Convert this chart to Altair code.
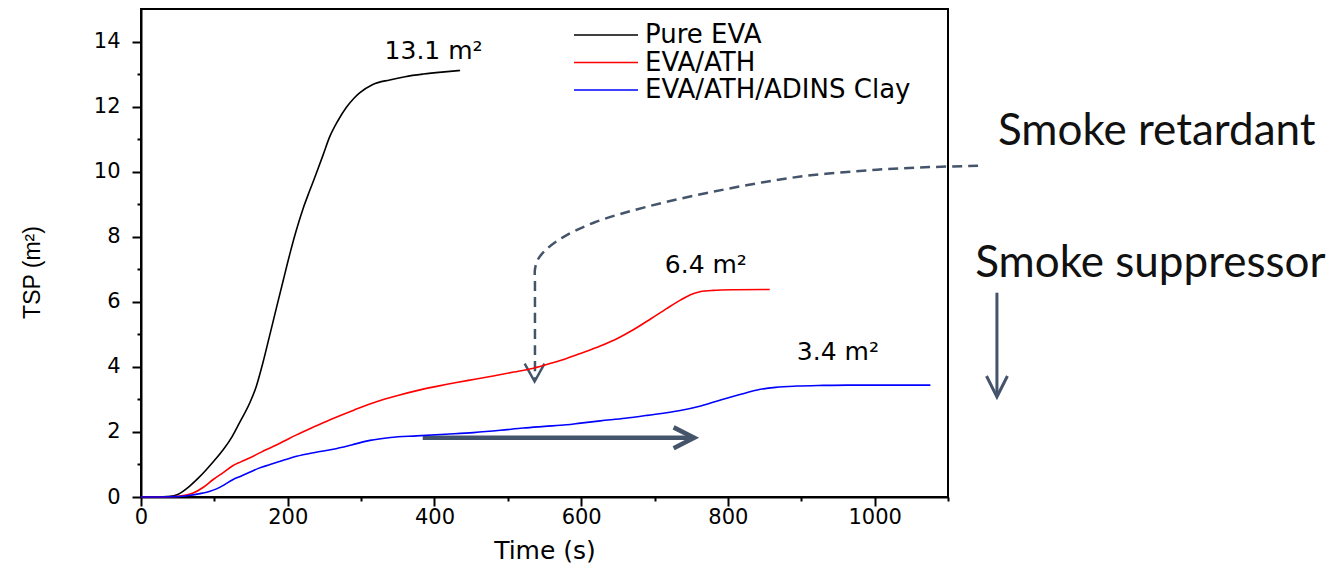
import altair as alt
import pandas as pd

# ---------------- data ----------------
series_names = ["Pure EVA", "EVA/ATH", "EVA/ATH/ADINS Clay"]
series_colors = ["#000000", "#ff0000", "#0000ff"]

eva_time = [0, 20, 40, 50, 66, 78, 89, 100, 112, 124, 134, 148, 157, 166, 175, 185,
            194, 203, 212, 221, 230, 239, 248, 257, 268, 280, 290, 298, 316, 339,
            360, 385, 410, 435]
eva_tsp = [0, 0, 0.02, 0.08, 0.33, 0.58, 0.84, 1.12, 1.45, 1.85, 2.27, 2.88, 3.39,
           4.11, 4.93, 5.85, 6.67, 7.48, 8.22, 8.87, 9.42, 9.95, 10.50, 11.06, 11.55,
           11.98, 12.25, 12.42, 12.68, 12.82, 12.92, 13.00, 13.06, 13.11]

ath_time = [0, 40, 60, 71, 85, 98, 112, 125, 136, 148, 164, 180, 196, 212, 235, 257,
            290, 321, 350, 376, 403, 430, 455, 480, 508, 535, 560, 580, 600, 626, 650,
            671, 695, 717, 735, 749, 762, 780, 810, 857]
ath_tsp = [0, 0.01, 0.05, 0.12, 0.30, 0.53, 0.75, 0.96, 1.08, 1.20, 1.38, 1.55, 1.73,
           1.91, 2.15, 2.37, 2.67, 2.93, 3.12, 3.27, 3.40, 3.52, 3.62, 3.72, 3.84, 3.96,
           4.12, 4.26, 4.42, 4.64, 4.88, 5.14, 5.48, 5.80, 6.05, 6.22, 6.31, 6.35, 6.37,
           6.38]

clay_time = [0, 40, 60, 84, 93, 103, 114, 125, 136, 148, 160, 175, 193, 212, 237, 262,
             287, 312, 340, 376, 415, 453, 490, 521, 550, 580, 599, 626, 660, 690, 735,
             763, 790, 815, 840, 865, 894, 930, 963, 1000, 1040, 1076]
clay_tsp = [0, 0.01, 0.03, 0.12, 0.17, 0.25, 0.38, 0.53, 0.64, 0.76, 0.88, 0.99, 1.12,
            1.25, 1.37, 1.47, 1.60, 1.74, 1.83, 1.88, 1.93, 1.98, 2.05, 2.12, 2.17, 2.22,
            2.27, 2.34, 2.42, 2.51, 2.66, 2.80, 2.98, 3.14, 3.29, 3.37, 3.41, 3.43, 3.44,
            3.44, 3.44, 3.44]

x_tick_values = list(range(0, 1101, 100))
y_tick_values = list(range(0, 15))

# end-value annotations
value_labels = ["13.1 m²", "6.4 m²", "3.4 m²"]
value_label_time = [332, 714, 894]
value_label_tsp = [13.46, 6.89, 4.2]

# slide annotations
slide_labels = ["Smoke retardant", "Smoke suppressor"]
slide_label_time = [1168, 1137]
slide_label_tsp = [10.83, 6.77]

retardant_curve_time = [1141, 1075, 1003, 899, 794.5, 690.8, 617, 575, 552, 541, 537, 537, 537]
retardant_curve_tsp = [10.18, 10.14, 10.06, 9.85, 9.45, 8.93, 8.43, 7.98, 7.6, 7.3, 7.0, 6.6, 3.6]
retardant_head_time = [523, 536.5, 550]
retardant_head_tsp = [4.10, 3.55, 4.10]

horizontal_arrow_time = [384, 753]
horizontal_arrow_tsp = [1.82, 1.82]
horizontal_head_time = [726, 754, 726]
horizontal_head_tsp = [2.14, 1.82, 1.50]

down_arrow_time = [1166.7, 1166.7]
down_arrow_tsp = [6.28, 3.12]
down_head_time = [1152.5, 1166.7, 1181]
down_head_tsp = [3.72, 3.08, 3.72]

# ---------------- tables ----------------
rows = []
for name, ts, vs in zip(series_names, [eva_time, ath_time, clay_time],
                        [eva_tsp, ath_tsp, clay_tsp]):
    for t, v in zip(ts, vs):
        rows.append({"series": name, "time": t, "tsp": v})
df = pd.DataFrame(rows)


def path_df(xs, ys):
    return pd.DataFrame({"time": xs, "tsp": ys, "i": list(range(len(xs)))})


ARROW = "#44546A"
FONT = "DejaVu Sans"

x_scale = alt.Scale(domain=[0, 1100], nice=False, zero=False)
y_scale = alt.Scale(domain=[0, 15], nice=False, zero=False)

x_axis = alt.Axis(
    values=x_tick_values, format="d",
    labelExpr="datum.value % 200 === 0 ? datum.label : ''",
    tickSize={"condition": {"test": "datum.value % 200 === 0", "value": 9}, "value": 4},
    labelPadding=0, labelFlush=False, labelOverlap=False,
    labelFont=FONT, labelFontSize=21, labelColor="black",
    domainColor="black", domainWidth=2, tickColor="black", tickWidth=2,
    grid=False, titleFont=FONT, titleFontSize=25, titleFontWeight="normal",
    titleColor="black", titleBaseline="alphabetic", titleY=61,
)
y_axis = alt.Axis(
    values=y_tick_values, format="d",
    labelExpr="datum.value % 2 === 0 ? datum.label : ''",
    tickSize={"condition": {"test": "datum.value % 2 === 0", "value": 9}, "value": 4},
    labelPadding=12, labelFlush=False, labelOverlap=False,
    labelFont=FONT, labelFontSize=21, labelColor="black",
    domainColor="black", domainWidth=2, tickColor="black", tickWidth=2,
    grid=False, titleFont="Liberation Sans", titleFontSize=23,
    titleFontWeight="normal", titleColor="black", titleAngle=270,
    titleAlign="center", titleBaseline="middle", titleX=-109, titleY=263,
)

X = alt.X("time:Q", scale=x_scale, axis=x_axis, title="Time (s)")
Y = alt.Y("tsp:Q", scale=y_scale, axis=y_axis, title="TSP (m²)")

lines = alt.Chart(df).mark_line(strokeWidth=1.6, interpolate="monotone").encode(
    x=X, y=Y,
    color=alt.Color(
        "series:N",
        scale=alt.Scale(domain=series_names, range=series_colors),
        legend=alt.Legend(
            title=None, orient="none", legendX=452, legendY=13,
            symbolType="M-4,0H4", symbolSize=256, symbolStrokeWidth=1.5,
            labelOffset=26, labelFont=FONT, labelFontSize=26, labelColor="black",
            labelLimit=0, rowPadding=1.5, padding=0,
        ),
    ),
)

value_text = alt.Chart(pd.DataFrame({
    "time": value_label_time, "tsp": value_label_tsp, "label": value_labels
})).mark_text(font=FONT, fontSize=25, align="left", baseline="alphabetic",
              color="black").encode(x=X, y=Y, text="label:N")

slide_text = alt.Chart(pd.DataFrame({
    "time": slide_label_time, "tsp": slide_label_tsp, "label": slide_labels
})).mark_text(font="Lato", fontSize=44, align="left", baseline="alphabetic",
              color="#111111").encode(x=X, y=Y, text="label:N")


def path_layer(xs, ys, width, dash=None):
    kw = dict(strokeWidth=width, color=ARROW, interpolate="catmull-rom")
    if dash:
        kw["strokeDash"] = dash
    else:
        kw["interpolate"] = "linear"
    return alt.Chart(path_df(xs, ys)).mark_line(**kw).encode(
        x=X, y=Y, order=alt.Order("i:Q"))


retardant = path_layer(retardant_curve_time, retardant_curve_tsp, 2.5, [10, 6])
retardant_head = path_layer(retardant_head_time, retardant_head_tsp, 2.5)
horiz = path_layer(horizontal_arrow_time, horizontal_arrow_tsp, 4.5)
horiz_head = path_layer(horizontal_head_time, horizontal_head_tsp, 4.5)
down = path_layer(down_arrow_time, down_arrow_tsp, 3)
down_head = path_layer(down_head_time, down_head_tsp, 3)

chart = alt.layer(
    retardant, retardant_head, horiz, horiz_head, down, down_head,
    lines, value_text, slide_text,
).properties(
    width=807, height=488,
    autosize=alt.AutoSizeParams(type="none"),
    padding={"left": 133, "top": 1, "right": 381, "bottom": 66},
    background="white",
).configure_view(stroke="black", strokeWidth=2)

chart.save("out.html", embed_options={"renderer": "svg", "actions": False})
